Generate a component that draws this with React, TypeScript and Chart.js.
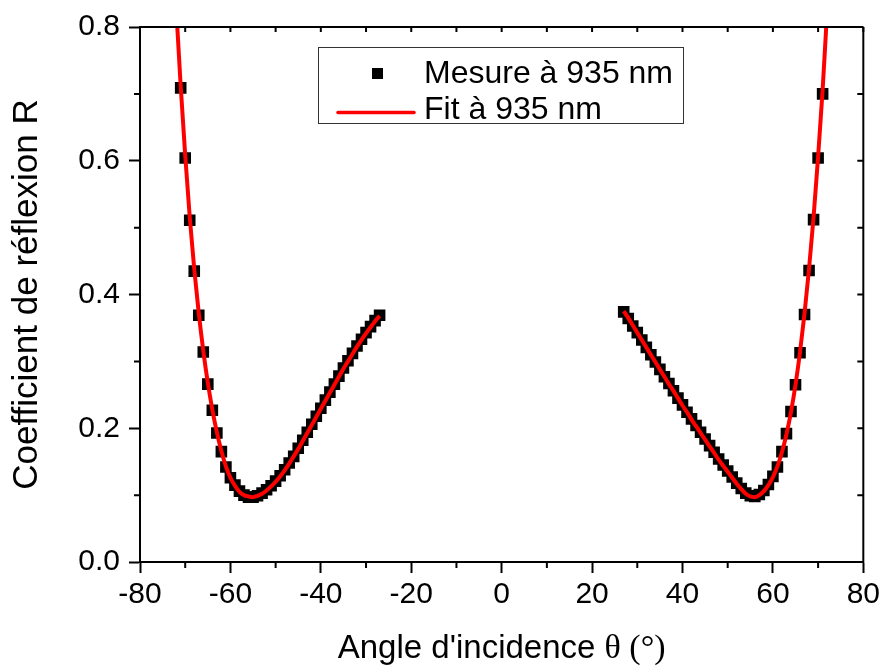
import React, { useEffect, useRef } from 'react';
import { Chart, registerables } from 'chart.js';

Chart.register(...registerables);

// ---------- data ----------
const MEASURE_LEFT_ANGLE = [
  -71, -70, -69, -68, -67, -66, -65, -64, -63, -62, -61, -60, -59, -58, -57,
  -56, -55, -54, -53, -52, -51, -50, -49, -48, -47, -46, -45, -44, -43, -42,
  -41, -40, -39, -38, -37, -36, -35, -34, -33, -32, -31, -30, -29, -28, -27,
];
const MEASURE_LEFT_R = [
  0.709, 0.604, 0.511, 0.435, 0.369, 0.314, 0.266, 0.227, 0.193, 0.165, 0.142, 0.126, 0.115, 0.106, 0.1,
  0.097, 0.097, 0.099, 0.103, 0.108, 0.114, 0.121, 0.129, 0.138, 0.148, 0.158, 0.17, 0.182, 0.194, 0.206,
  0.218, 0.23, 0.242, 0.254, 0.266, 0.278, 0.29, 0.301, 0.312, 0.323, 0.333, 0.343, 0.352, 0.361, 0.369,
];
const MEASURE_RIGHT_ANGLE = [
  27, 28, 29, 30, 31, 32, 33, 34, 35, 36, 37, 38, 39, 40, 41,
  42, 43, 44, 45, 46, 47, 48, 49, 50, 51, 52, 53, 54, 55, 56,
  57, 58, 59, 60, 61, 62, 63, 64, 65, 66, 67, 68, 69, 70, 71,
];
const MEASURE_RIGHT_R = [
  0.374, 0.364, 0.353, 0.343, 0.332, 0.321, 0.31, 0.299, 0.288, 0.277, 0.267, 0.256, 0.245, 0.235, 0.224,
  0.214, 0.204, 0.194, 0.184, 0.174, 0.164, 0.154, 0.145, 0.136, 0.127, 0.118, 0.11, 0.103, 0.099, 0.098,
  0.101, 0.107, 0.116, 0.128, 0.142, 0.165, 0.192, 0.225, 0.265, 0.313, 0.37, 0.436, 0.512, 0.604, 0.7,
];

const FIT_LEFT_ANGLE = [
  -72, -71, -70, -69, -68, -67, -66, -65, -64, -63, -62, -61, -60, -59, -58, -57,
  -56, -55, -54, -53, -52, -51, -50, -49, -48, -47, -46, -45, -44, -43, -42,
  -41, -40, -39, -38, -37, -36, -35, -34, -33, -32, -31, -30, -29, -28, -27,
];
const FIT_LEFT_R = [
  0.83, 0.712, 0.608, 0.516, 0.438, 0.372, 0.316, 0.268, 0.228, 0.194, 0.166, 0.143, 0.126, 0.114, 0.105, 0.1,
  0.098, 0.097, 0.099, 0.102, 0.107, 0.113, 0.12, 0.128, 0.137, 0.147, 0.158, 0.169, 0.181, 0.193, 0.205,
  0.217, 0.229, 0.241, 0.253, 0.265, 0.277, 0.289, 0.3, 0.311, 0.322, 0.332, 0.342, 0.351, 0.36, 0.368,
];
const FIT_RIGHT_ANGLE = [
  27, 28, 29, 30, 31, 32, 33, 34, 35, 36, 37, 38, 39, 40, 41,
  42, 43, 44, 45, 46, 47, 48, 49, 50, 51, 52, 53, 54, 55, 56,
  57, 58, 59, 60, 61, 62, 63, 64, 65, 66, 67, 68, 69, 70, 71, 72,
];
const FIT_RIGHT_R = [
  0.375, 0.365, 0.354, 0.343, 0.332, 0.321, 0.31, 0.299, 0.288, 0.277, 0.266, 0.256, 0.245, 0.234, 0.224,
  0.213, 0.203, 0.193, 0.183, 0.173, 0.163, 0.153, 0.144, 0.135, 0.126, 0.117, 0.109, 0.102, 0.098, 0.097,
  0.1, 0.106, 0.115, 0.127, 0.143, 0.164, 0.191, 0.224, 0.265, 0.314, 0.372, 0.439, 0.516, 0.606, 0.706, 0.825,
];

const X_MAJOR_TICKS = [-80, -60, -40, -20, 0, 20, 40, 60, 80];
const X_MINOR_TICKS = [-70, -50, -30, -10, 10, 30, 50, 70];
const Y_MINOR_TICKS = [0.1, 0.3, 0.5, 0.7];
const X_ALL_TICKS = [-80, -70, -60, -50, -40, -30, -20, -10, 0, 10, 20, 30, 40, 50, 60, 70, 80];
const Y_ALL_TICKS = [0, 0.1, 0.2, 0.3, 0.4, 0.5, 0.6, 0.7, 0.8];

const MEASURE_LABEL = 'Mesure à 935 nm';
const FIT_LABEL = 'Fit à 935 nm';
const X_TITLE_MAIN = "Angle d'incidence ";
const X_TITLE_SYMBOL = 'θ (°)';
const Y_TITLE = 'Coefficient de réflexion R';

const SANS = '"Liberation Sans", Arial, Helvetica, sans-serif';
const SERIF = '"Liberation Serif", "Times New Roman", serif';

const framePlugin = {
  id: 'frame',
  afterDraw(chart: any) {
    const { ctx, chartArea, scales } = chart;
    const { left, right, top, bottom } = chartArea;
    const xs = scales.x;
    const ys = scales.y;
    ctx.save();
    ctx.strokeStyle = '#000';
    ctx.lineWidth = 2;
    ctx.lineCap = 'butt';
    // top & right frame lines
    ctx.beginPath();
    ctx.moveTo(left - 1, top);
    ctx.lineTo(right, top);
    ctx.moveTo(right, top);
    ctx.lineTo(right, bottom + 1);
    ctx.stroke();
    // minor outward ticks
    ctx.beginPath();
    X_MINOR_TICKS.forEach((v) => {
      const px = xs.getPixelForValue(v);
      ctx.moveTo(px, bottom);
      ctx.lineTo(px, bottom + 6);
    });
    Y_MINOR_TICKS.forEach((v) => {
      const py = ys.getPixelForValue(v);
      ctx.moveTo(left, py);
      ctx.lineTo(left - 6, py);
    });
    // inward ticks on top and right
    X_ALL_TICKS.forEach((v) => {
      const px = xs.getPixelForValue(v);
      ctx.moveTo(px, top);
      ctx.lineTo(px, top + 5);
    });
    Y_ALL_TICKS.forEach((v) => {
      const py = ys.getPixelForValue(v);
      ctx.moveTo(right, py);
      ctx.lineTo(right - 6, py);
    });
    ctx.stroke();

    // x axis title with mixed fonts
    ctx.fillStyle = '#000';
    ctx.textBaseline = 'alphabetic';
    ctx.textAlign = 'left';
    ctx.font = `33px ${SANS}`;
    const w1 = ctx.measureText(X_TITLE_MAIN).width;
    ctx.font = `34px ${SERIF}`;
    const w2 = ctx.measureText(X_TITLE_SYMBOL).width;
    const cx = (left + right) / 2;
    const startX = cx - (w1 + w2) / 2;
    const baseY = bottom + 96;
    ctx.font = `33px ${SANS}`;
    ctx.fillText(X_TITLE_MAIN, startX, baseY);
    ctx.font = `34px ${SERIF}`;
    ctx.fillText(X_TITLE_SYMBOL, startX + w1, baseY);

    // legend
    const ds = chart.data.datasets;
    const bx = left + 178;
    const by = top + 20;
    const bw = 365;
    const bh = 76;
    ctx.fillStyle = '#fff';
    ctx.fillRect(bx, by, bw, bh);
    ctx.strokeStyle = '#333';
    ctx.lineWidth = 1;
    ctx.strokeRect(bx + 0.5, by + 0.5, bw, bh);
    // measure marker
    ctx.fillStyle = ds[0].backgroundColor;
    ctx.fillRect(bx + 54, by + 21, 11, 11);
    // fit line
    ctx.strokeStyle = ds[1].borderColor;
    ctx.lineWidth = 3.5;
    ctx.lineCap = 'round';
    ctx.beginPath();
    ctx.moveTo(bx + 20, by + 65.5);
    ctx.lineTo(bx + 96, by + 65.5);
    ctx.stroke();
    ctx.fillStyle = '#000';
    ctx.font = `32px ${SANS}`;
    ctx.textBaseline = 'middle';
    ctx.fillText(ds[0].label, bx + 106, by + 27);
    ctx.fillText(ds[1].label, bx + 106, by + 63);
    ctx.restore();
  },
};

export default function App() {
  const canvasRef = useRef<HTMLCanvasElement | null>(null);

  useEffect(() => {
    if (!canvasRef.current) return;
    const measure = [
      ...MEASURE_LEFT_ANGLE.map((a, i) => ({ x: a, y: MEASURE_LEFT_R[i] })),
      ...MEASURE_RIGHT_ANGLE.map((a, i) => ({ x: a, y: MEASURE_RIGHT_R[i] })),
    ];
    const fit = [
      ...FIT_LEFT_ANGLE.map((a, i) => ({ x: a, y: FIT_LEFT_R[i] })),
      { x: 0, y: null },
      ...FIT_RIGHT_ANGLE.map((a, i) => ({ x: a, y: FIT_RIGHT_R[i] })),
    ];
    const chart = new Chart(canvasRef.current, {
      type: 'scatter',
      data: {
        datasets: [
          {
            label: MEASURE_LABEL,
            data: measure,
            order: 2,
            pointStyle: 'rect',
            pointRadius: 8.2,
            pointHoverRadius: 8.2,
            backgroundColor: '#000',
            borderColor: '#000',
            borderWidth: 0,
            showLine: false,
          } as any,
          {
            label: FIT_LABEL,
            data: fit,
            order: 1,
            showLine: true,
            spanGaps: false,
            pointRadius: 0,
            pointHoverRadius: 0,
            borderColor: '#ff0000',
            backgroundColor: '#ff0000',
            borderWidth: 4,
            cubicInterpolationMode: 'monotone',
            clip: 0,
          } as any,
        ],
      },
      options: {
        animation: false,
        responsive: true,
        maintainAspectRatio: false,
        layout: { padding: { left: 0, right: 19, top: 26, bottom: 0 } },
        plugins: {
          legend: { display: false },
          tooltip: { enabled: false },
        },
        scales: {
          x: {
            type: 'linear',
            min: -80,
            max: 80,
            afterFit: (s: any) => {
              s.height = 104;
            },
            afterBuildTicks: (s: any) => {
              s.ticks = X_MAJOR_TICKS.map((v) => ({ value: v }));
            },
            ticks: {
              color: '#000',
              font: { family: SANS, size: 30 },
              padding: 4,
              maxRotation: 0,
              autoSkip: false,
            },
            grid: {
              display: true,
              drawOnChartArea: false,
              drawTicks: true,
              tickLength: 11,
              tickWidth: 2,
              tickColor: '#000',
            },
            border: { display: true, color: '#000', width: 2 },
          },
          y: {
            type: 'linear',
            min: 0,
            max: 0.8,
            afterFit: (s: any) => {
              s.width = 140;
            },
            ticks: {
              stepSize: 0.2,
              color: '#000',
              font: { family: SANS, size: 30 },
              padding: 9,
              callback: (v: any) => Number(v).toFixed(1),
            },
            grid: {
              display: true,
              drawOnChartArea: false,
              drawTicks: true,
              tickLength: 11,
              tickWidth: 2,
              tickColor: '#000',
            },
            border: { display: true, color: '#000', width: 2 },
            title: {
              display: true,
              text: Y_TITLE,
              color: '#000',
              font: { family: SANS, size: 35 },
              padding: { top: 6, bottom: 0 },
            },
          },
        },
      } as any,
      plugins: [framePlugin],
    });
    return () => chart.destroy();
  }, []);

  return (
    <div style={{ position: 'fixed', left: 0, top: 0, width: 884, height: 666, background: '#fff' }}>
      <canvas ref={canvasRef} />
    </div>
  );
}
